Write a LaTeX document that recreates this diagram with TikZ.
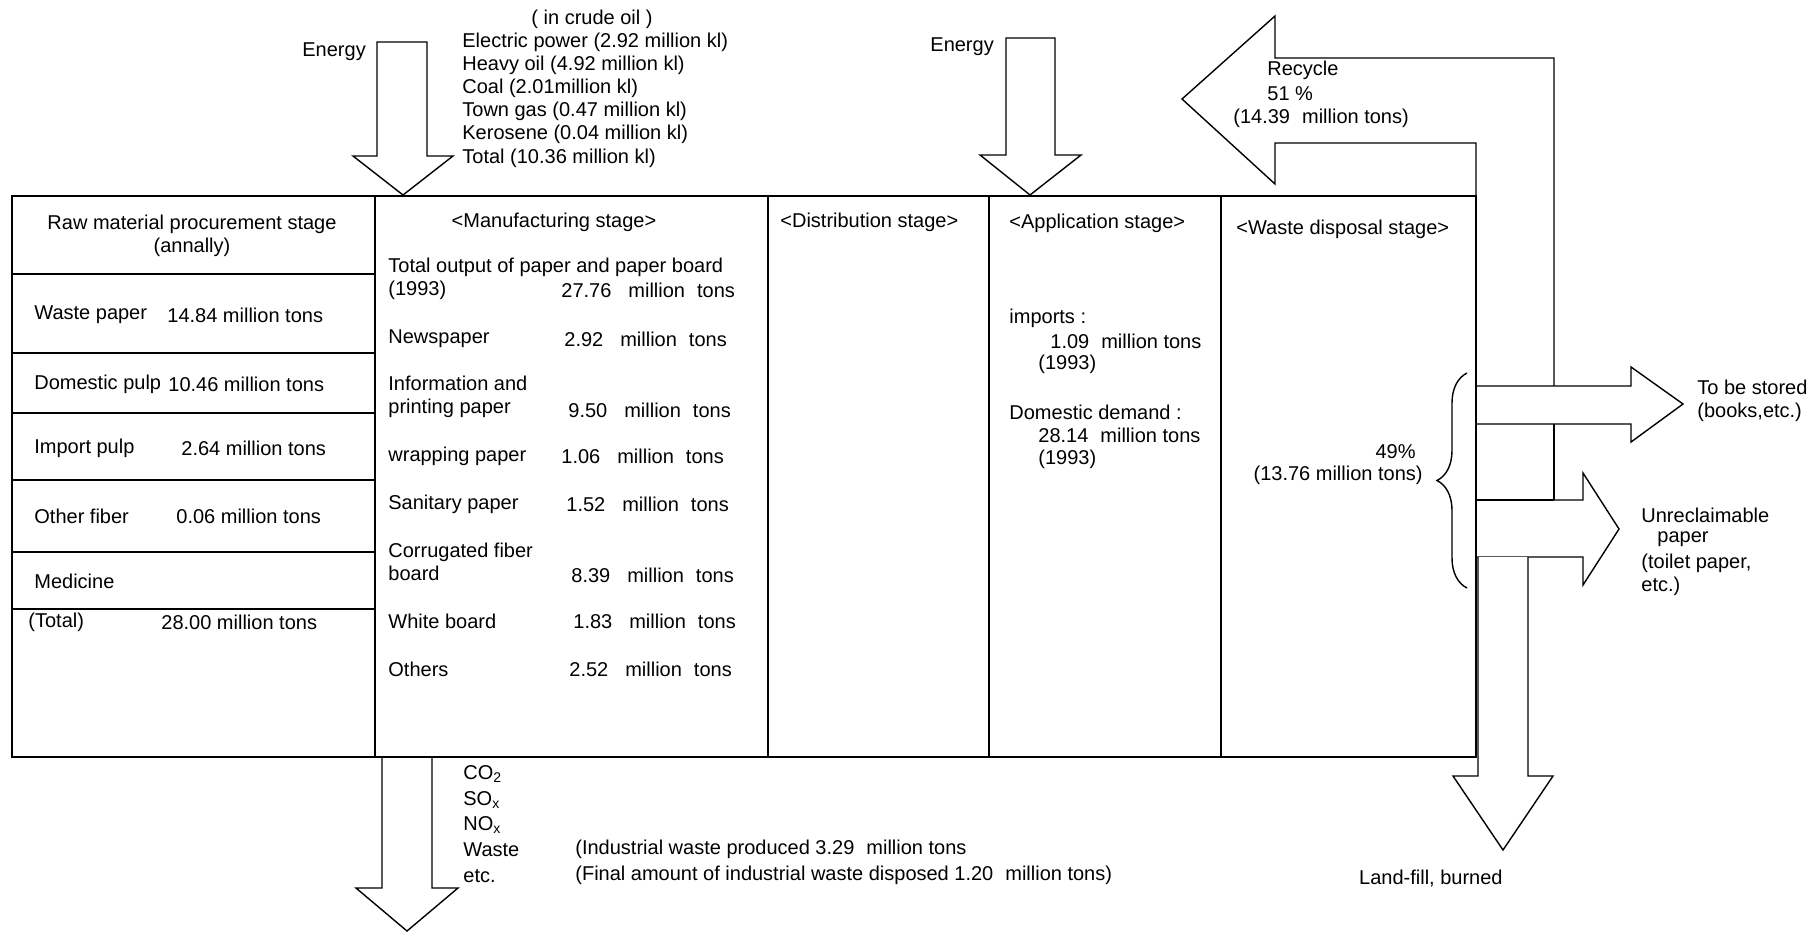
\documentclass[tikz,border=0pt]{standalone}
\usepackage{fontspec}
\setmainfont{Liberation Sans}
\usetikzlibrary{decorations.pathreplacing}

\newcommand{\mtons}{\hspace{0.85em}million\hspace{0.6em}tons}

\begin{document}
\begin{tikzpicture}[x=0.5pt, y=-0.5pt, font=\fontsize{10}{11.6}\selectfont,
  frame/.style={line width=1.4pt},
  flow/.style={draw, line width=0.7pt, fill=white},
  lbl/.style={inner sep=0pt, anchor=west, align=left}]
  \useasboundingbox (0,0) rectangle (1820,932);

  % energy input
  \draw[flow] (377,42) -- (377,156) -- (353,156) -- (403,195) -- (453,156) -- (427,156) -- (427,42) -- cycle;
  \draw[flow] (1006,38) -- (1006,155) -- (980,155) -- (1030,195) -- (1081,155) -- (1055,155) -- (1055,38) -- cycle;
  \node[lbl] (energyA) at (302,52) {Energy};
  \node[lbl] (energyB) at (930,47) {Energy};
  \node[inner sep=0pt] (crude) at (592,19) {( in crude oil )};
  \node[lbl] (fuels) at (462,100) {Electric power (2.92 million kl)\\Heavy oil (4.92 million kl)\\Coal (2.01million kl)\\Town gas (0.47 million kl)\\Kerosene (0.04 million kl)\\Total (10.36 million kl)};

  % recycle loop and outputs
  \draw[flow] (1476,196) -- (1476,143) -- (1275,143) -- (1275,184) -- (1182,99) -- (1275,16) -- (1275,58) -- (1554,58) -- (1554,386);
  \draw[flow] (1554,424) -- (1554,500);
  \draw[flow] (1476,386) -- (1631,386) -- (1631,367) -- (1683,404) -- (1631,442) -- (1631,424) -- (1476,424);
  \draw[flow] (1476,500) -- (1583,500) -- (1583,473) -- (1619,529) -- (1583,585) -- (1583,557) -- (1476,557);
  \draw[line width=1.2pt] (1476,500) -- (1554,500);
  \draw[flow] (1478,557) -- (1478,776) -- (1453,776) -- (1503,850) -- (1553,776) -- (1528,776) -- (1528,557);
  \draw[flow] (382,757) -- (382,888) -- (356,888) -- (407,931) -- (458,888) -- (432,888) -- (432,757);

  % stage table
  \draw[frame] (12,196) rectangle (1476,757);
  \foreach \x in {375,768,989,1221}
    \draw[frame] (\x,196) -- (\x,757);
  \foreach \y in {274,353,413,480,552,609}
    \draw[frame] (12,\y) -- (375,\y);

  % raw material
  \node[align=center, inner sep=0pt] (rawhd) at (192,236) {Raw material procurement stage\\(annally)};
  \node[lbl] (waste) at (34,315) {Waste paper};
  \node[lbl] (wasteV) at (167,315) {14.84 million tons};
  \node[lbl] (dpulp) at (34,384) {Domestic pulp};
  \node[lbl] (dpulpV) at (168,384) {10.46 million tons};
  \node[lbl] (ipulp) at (34,448) {Import pulp};
  \node[lbl] (ipulpV) at (181,448) {2.64 million tons};
  \node[lbl] (fiber) at (34,516) {Other fiber};
  \node[lbl] (fiberV) at (176,516) {0.06 million tons};
  \node[lbl] (medic) at (34,581) {Medicine};
  \node[lbl] (total) at (28,622) {(Total)};
  \node[lbl] (totalV) at (161,622) {28.00 million tons};

  % manufacturing
  \node[inner sep=0pt] (manhd) at (554,222) {<Manufacturing stage>};
  \node[lbl] (output) at (388,279) {Total output of paper and paper board\\(1993)};
  \node[lbl] (outputV) at (561,290) {27.76\mtons};
  \node[lbl] (news) at (388,339) {Newspaper};
  \node[lbl] (newsV) at (564,339) {2.92\mtons};
  \node[lbl] (info) at (388,397) {Information and\\printing paper};
  \node[lbl] (infoV) at (568,410) {9.50\mtons};
  \node[lbl] (wrap) at (388,456) {wrapping paper};
  \node[lbl] (wrapV) at (561,456) {1.06\mtons};
  \node[lbl] (sanit) at (388,504) {Sanitary paper};
  \node[lbl] (sanitV) at (566,504) {1.52\mtons};
  \node[lbl] (corr) at (388,562) {Corrugated fiber\\board};
  \node[lbl] (corrV) at (571,575) {8.39\mtons};
  \node[lbl] (white) at (388,621) {White board};
  \node[lbl] (whiteV) at (573,621) {1.83\mtons};
  \node[lbl] (others) at (388,669) {Others};
  \node[lbl] (othersV) at (569,669) {2.52\mtons};

  % distribution, application
  \node[lbl] (disthd) at (780,222) {<Distribution stage>};
  \node[lbl] (apphd) at (1009,223) {<Application stage>};
  \node[lbl] (imp) at (1009,318) {imports :};
  \node[lbl] (impV) at (1050,341) {1.09\hspace{0.6em}million tons};
  \node[lbl] (impY) at (1038,364) {(1993)};
  \node[lbl] (dom) at (1009,412) {Domestic demand :};
  \node[lbl] (domV) at (1038,435) {28.14\hspace{0.6em}million tons};
  \node[lbl] (domY) at (1038,459) {(1993)};

  % waste disposal
  \node[lbl] (wastehd) at (1236,229) {<Waste disposal stage>};
  \node[inner sep=0pt, anchor=east] (rest) at (1416,452) {49\%};
  \node[inner sep=0pt, anchor=east] (restV) at (1423,475) {(13.76 million tons)};
  \draw[line width=0.7pt, decorate, decoration={brace, amplitude=15pt}] (1467,588) -- (1467,373);

  % flow labels
  \node[lbl] (recyc) at (1267,70) {Recycle};
  \node[lbl] (recycP) at (1267,94) {51 \%};
  \node[lbl] (recycV) at (1233,118) {(14.39\hspace{0.6em}million tons)};
  \node[lbl] (stored) at (1697,401) {To be stored\\(books,etc.)};
  \node[lbl] (unrec) at (1641,515) {Unreclaimable};
  \node[lbl] (unrecB) at (1657,539) {paper};
  \node[lbl] (unrecC) at (1641,575) {(toilet paper,\\etc.)};
  \node[inner sep=0pt, anchor=east] (landfill) at (1503,879) {Land-fill, burned};

  % emissions
  \node[lbl, font=\fontsize{10}{12.8}\selectfont] (emis) at (463,824) {CO\textsubscript{2}\\SO\textsubscript{x}\\NO\textsubscript{x}\\Waste\\etc.};
  \node[lbl] (indw) at (575,849) {(Industrial waste produced 3.29\hspace{0.6em}million tons};
  \node[lbl] (finw) at (575,875) {(Final amount of industrial waste disposed 1.20\hspace{0.6em}million tons)};
\end{tikzpicture}
\end{document}
